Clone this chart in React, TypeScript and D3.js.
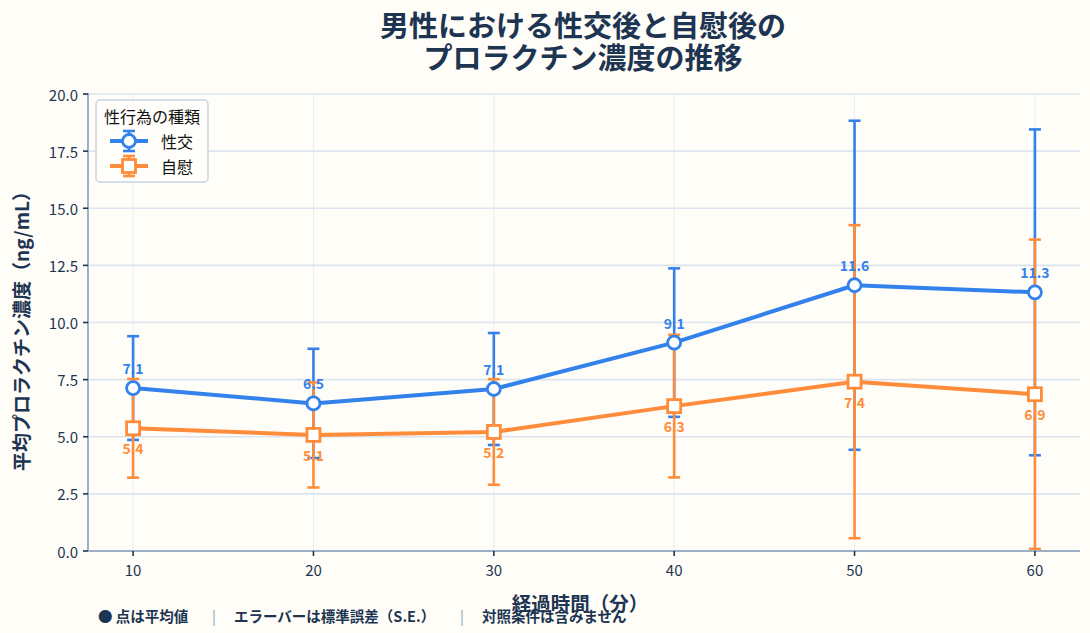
import * as d3 from "d3";

const minutes = [10, 20, 30, 40, 50, 60];
const coitusMean = [7.13, 6.46, 7.09, 9.12, 11.63, 11.32];
const coitusSE = [2.27, 2.39, 2.45, 3.25, 7.2, 7.13];
const masturbationMean = [5.37, 5.08, 5.21, 6.34, 7.41, 6.86];
const masturbationSE = [2.16, 2.3, 2.31, 3.12, 6.85, 6.77];
const yTicks = [0, 2.5, 5, 7.5, 10, 12.5, 15, 17.5, 20];

const W = 1090;
const H = 633;
const FONT = "'Noto Sans CJK JP', 'Noto Sans', sans-serif";
const NAVY = "#1d3552";
const BLUE = "#3382ec";
const ORANGE = "#ff8c3b";

const margin = { left: 88, right: 10, top: 94, bottom: 82 };

const series = [
  { name: "性交", mean: coitusMean, se: coitusSE, color: BLUE, shape: "circle", labelDy: -20 },
  { name: "自慰", mean: masturbationMean, se: masturbationSE, color: ORANGE, shape: "square", labelDy: 20 },
];

export default function App() {
  const x = d3.scaleLinear().domain([7.5, 62.5]).range([margin.left, W - margin.right]);
  const y = d3.scaleLinear().domain([0, 20]).range([H - margin.bottom, margin.top]);
  const line = d3
    .line<number>()
    .x((_, i) => x(minutes[i]))
    .y((d) => y(d));

  const capW = 6;

  const marker = (cx: number, cy: number, s: (typeof series)[number], key: string) =>
    s.shape === "circle" ? (
      <circle key={key} cx={cx} cy={cy} r={6.5} fill="#fff" stroke={s.color} strokeWidth={2.8} />
    ) : (
      <rect key={key} x={cx - 6.5} y={cy - 6.5} width={13} height={13} fill="#fff" stroke={s.color} strokeWidth={2.8} />
    );

  return (
    <svg width={W} height={H} style={{ position: "absolute", left: 0, top: 0, background: "#fffdf7" }} fontFamily={FONT}>
      <rect width={W} height={H} fill="#fffdf7" />

      {/* grid */}
      {minutes.map((m) => (
        <line key={"vg" + m} x1={x(m)} x2={x(m)} y1={y(20)} y2={y(0)} stroke="#e6edf6" strokeWidth={1} />
      ))}
      {yTicks.map((t) => (
        <line key={"hg" + t} x1={margin.left} x2={W - margin.right} y1={y(t)} y2={y(t)} stroke="#dbe4ef" strokeWidth={1.6} />
      ))}

      {/* error bars */}
      {series.map((s) => (
        <g key={"eb" + s.name} stroke={s.color} strokeWidth={2.6}>
          {minutes.map((m, i) => {
            const top = y(s.mean[i] + s.se[i]);
            const bot = y(Math.max(0, s.mean[i] - s.se[i]));
            const cx = x(m);
            return (
              <g key={m}>
                <line x1={cx} x2={cx} y1={top} y2={bot} />
                <line x1={cx - capW} x2={cx + capW} y1={top} y2={top} />
                <line x1={cx - capW} x2={cx + capW} y1={bot} y2={bot} />
              </g>
            );
          })}
        </g>
      ))}

      {/* lines + markers */}
      {series.map((s) => (
        <g key={"ln" + s.name}>
          <path d={line(s.mean) || ""} fill="none" stroke={s.color} strokeWidth={4} strokeLinejoin="round" />
          {minutes.map((m, i) => marker(x(m), y(s.mean[i]), s, "mk" + m))}
        </g>
      ))}

      {/* value labels */}
      {series.map((s) =>
        minutes.map((m, i) => (
          <text
            key={"lb" + s.name + m}
            x={x(m)}
            y={y(s.mean[i]) + s.labelDy}
            textAnchor="middle"
            dominantBaseline="central"
            fontSize={14}
            fontWeight={700}
            fill={s.color}
          >
            {s.mean[i].toFixed(1)}
          </text>
        ))
      )}

      {/* axes */}
      <line x1={margin.left} x2={margin.left} y1={y(20) - 1} y2={y(0)} stroke="#9db0c6" strokeWidth={2} />
      <line x1={margin.left} x2={W - margin.right} y1={y(0)} y2={y(0)} stroke="#9db0c6" strokeWidth={2} />
      {yTicks.map((t) => (
        <g key={"yt" + t}>
          <line x1={margin.left - 5} x2={margin.left} y1={y(t)} y2={y(t)} stroke={NAVY} strokeWidth={1.6} />
          <text x={margin.left - 10} y={y(t)} textAnchor="end" dominantBaseline="central" fontSize={15} fill={NAVY}>
            {t.toFixed(1)}
          </text>
        </g>
      ))}
      {minutes.map((m) => (
        <g key={"xt" + m}>
          <line x1={x(m)} x2={x(m)} y1={y(0)} y2={y(0) + 5} stroke={NAVY} strokeWidth={1.6} />
          <text x={x(m)} y={y(0) + 18} textAnchor="middle" dominantBaseline="central" fontSize={15} fill={NAVY}>
            {m}
          </text>
        </g>
      ))}

      {/* axis titles */}
      <text x={580} y={602} textAnchor="middle" dominantBaseline="central" fontSize={19.5} fontWeight={700} fill={NAVY}>
        経過時間（分）
      </text>
      <text
        transform={`translate(20,${(y(0) + y(20)) / 2 + 4}) rotate(-90)`}
        textAnchor="middle"
        dominantBaseline="central"
        fontSize={19}
        fontWeight={700}
        fill={NAVY}
      >
        平均プロラクチン濃度（ng/mL）
      </text>

      {/* title */}
      <text x={583} y={24} textAnchor="middle" dominantBaseline="central" fontSize={29} fontWeight={700} fill={NAVY}>
        男性における性交後と自慰後の
      </text>
      <text x={583} y={56} textAnchor="middle" dominantBaseline="central" fontSize={29} fontWeight={700} fill={NAVY}>
        プロラクチン濃度の推移
      </text>

      {/* legend */}
      <g>
        <rect x={96} y={100} width={112} height={82} rx={4} fill="#fffefb" stroke="#c8d5e5" strokeWidth={1.5} />
        <text x={152} y={116} textAnchor="middle" dominantBaseline="central" fontSize={16} fill="#111">
          性行為の種類
        </text>
        {series.map((s, i) => {
          const cy = 141 + i * 25;
          const cx = 129;
          return (
            <g key={"lg" + s.name}>
              <g stroke={s.color} strokeWidth={2.6}>
                <line x1={cx} x2={cx} y1={cy - 10} y2={cy + 10} />
                <line x1={cx - 6} x2={cx + 6} y1={cy - 10} y2={cy - 10} />
                <line x1={cx - 6} x2={cx + 6} y1={cy + 10} y2={cy + 10} />
              </g>
              <line x1={110} x2={148} y1={cy} y2={cy} stroke={s.color} strokeWidth={4} />
              {marker(cx, cy, s, "lm")}
              <text x={161} y={cy} dominantBaseline="central" fontSize={16} fill="#111">
                {s.name}
              </text>
            </g>
          );
        })}
      </g>

      {/* footer note */}
      <g fontSize={14.5} fontWeight={700} fill={NAVY}>
        <text x={98} y={615} dominantBaseline="central">
          ● 点は平均値
        </text>
        <text x={212} y={615} dominantBaseline="central" fill="#8a9ab0" fontWeight={400}>
          |
        </text>
        <text x={234} y={615} dominantBaseline="central">
          エラーバーは標準誤差（S.E.）
        </text>
        <text x={460} y={615} dominantBaseline="central" fill="#8a9ab0" fontWeight={400}>
          |
        </text>
        <text x={482} y={615} dominantBaseline="central">
          対照条件は含みません
        </text>
      </g>
    </svg>
  );
}
